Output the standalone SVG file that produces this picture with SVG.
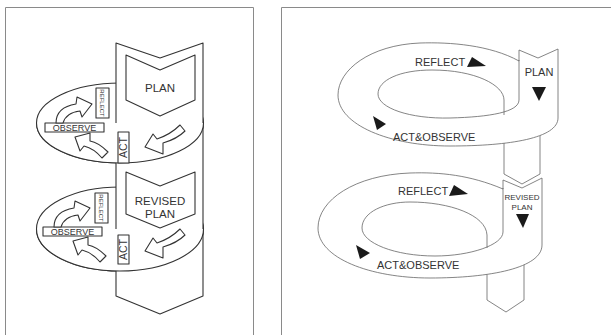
<svg xmlns="http://www.w3.org/2000/svg" width="611" height="335" viewBox="0 0 611 335">
<style>
.frame{fill:none;stroke:#8a8a8a;stroke-width:1}
.l{fill:#fff;stroke:#333;stroke-width:1.1;stroke-linejoin:round}
.ln{fill:none;stroke:#333;stroke-width:1.1}
.r{fill:#fff;stroke:#666;stroke-width:0.8;stroke-linejoin:round}
.rn{fill:none;stroke:#666;stroke-width:0.8}
.t{font-family:"Liberation Sans",Arial,sans-serif;fill:#333}
.tri{fill:#1a1a1a}
</style>
<rect width="611" height="335" fill="#fff"/>
<g id="frames">
<path class="frame" d="M5.5,340 V7.5 H253.5 V340"/>
<path class="frame" d="M281.5,340 V7.5 H612"/>
</g>
<g id="left-diagram">
<g id="cycle1-back"><ellipse class="l" cx="120" cy="123" rx="83.5" ry="40"/></g>
<g id="cycle2-back"><ellipse class="l" cx="120" cy="229" rx="83.5" ry="42"/></g>
<g id="spine"><path class="l" d="M116,43 L160,58 L203,43 L203,296 L160,314 L116,296 Z"/></g>
<g id="cycle1-front"><path class="l" d="M36.5,123 A83.5,40 0 0 0 203.5,123"/></g>
<g id="cycle2-front"><path class="l" d="M36.5,229 A83.5,42 0 0 0 203.5,229"/></g>
<g id="plan">
<path class="l" d="M126,55 L160,70 L195,55 L195,100 L160,116 L126,100 Z"/>
<text class="t" x="160" y="92" font-size="11.5" text-anchor="middle">PLAN</text>
</g>
<g id="revised-plan">
<path class="l" d="M126,172 L160,186 L195,172 L195,214 L160,228 L126,214 Z"/>
<text class="t" x="160" y="205" font-size="11.5" text-anchor="middle">REVISED</text>
<text class="t" x="160" y="218" font-size="11.5" text-anchor="middle">PLAN</text>
</g>
<g id="cycle1-labels">
<rect class="l" x="96" y="88" width="13" height="30"/>
<text class="t" transform="translate(100,103) rotate(90)" font-size="6" text-anchor="middle">REFLECT</text>
<rect class="l" x="45" y="123" width="59" height="9"/>
<text class="t" x="74.5" y="131" font-size="9" text-anchor="middle">OBSERVE</text>
<rect class="l" x="118" y="132" width="11" height="31"/>
<text class="t" transform="translate(127,147.5) rotate(-90)" font-size="10.5" text-anchor="middle">ACT</text>
</g>
<g id="cycle1-arrows">
<path class="l" d="M56,123 C56,112 64,106 76,104 L77,97 L92,104 L82,117 L80,111 C72,112 65,116 63,123 Z"/>
<path class="l" d="M108,152 C101,145 96,142 90,141 L90,133 L75,137 L80,151 L84,146 C92,148 97,152 102,158 Z"/>
<path class="l" d="M180,125 L185,131 C178,138 170,141 163,143 L163,154 L145,147 L153,134 L157,139 C166,136 174,131 180,125 Z"/>
</g>
<g id="cycle2-labels">
<rect class="l" x="95" y="193" width="13" height="30"/>
<text class="t" transform="translate(99,208) rotate(90)" font-size="6" text-anchor="middle">REFLECT</text>
<rect class="l" x="43" y="227" width="59" height="9"/>
<text class="t" x="72.5" y="235" font-size="9" text-anchor="middle">OBSERVE</text>
<rect class="l" x="118" y="235" width="11" height="29"/>
<text class="t" transform="translate(127,249.5) rotate(-90)" font-size="10.5" text-anchor="middle">ACT</text>
</g>
<g id="cycle2-arrows" transform="translate(-2,104)">
<path class="l" d="M56,123 C56,112 64,106 76,104 L77,97 L92,104 L82,117 L80,111 C72,112 65,116 63,123 Z"/>
<path class="l" d="M108,152 C101,145 96,142 90,141 L90,133 L75,137 L80,151 L84,146 C92,148 97,152 102,158 Z"/>
<path class="l" transform="translate(2,0)" d="M180,125 L185,131 C178,138 170,141 163,143 L163,154 L145,147 L153,134 L157,139 C166,136 174,131 180,125 Z"/>
</g>
</g>
<g id="right-diagram">
<g id="tails">
<path class="rn" d="M504,120 L504,174 L522,184 L540,174 L540,120"/>
<path class="rn" d="M487,240 L487,300 L506,312 L524,300 L524,240"/>
</g>
<g id="loop1">
<path class="r" d="M519,61 C490,45 450,42 420,43 C370,45 338,70 338,95 C338,125 390,146 450,146 C510,146 558,138 558,118 L558,49 L538,58 L519,50 Z"/>
<path class="rn" d="M519,60 L519,100 C519,112 490,117 450,118 C410,119 378,108 378,94 C378,80 400,70 432,70 C475,70 504,85 504,100 L504,115"/>
<text class="t" x="415" y="66" font-size="11">REFLECT</text>
<polygon class="tri" points="472,57 486,66 467,67"/>
<text class="t" x="539" y="76" font-size="11" text-anchor="middle">PLAN</text>
<polygon class="tri" points="532,87 546,87 539,101"/>
<text class="t" x="393" y="141" font-size="11">ACT&amp;OBSERVE</text>
<polygon class="tri" points="373,116 386,124 377,130"/>
</g>
<g id="loop2">
<path class="r" d="M503,189 C470,175 440,172 410,173 C355,175 318,200 318,228 C318,258 370,278 430,278 C490,278 542,268 542,245 L542,178 L522,188 L503,180 Z"/>
<path class="rn" d="M503,188 L503,232 C503,245 470,256 435,256 C395,256 362,243 362,228 C362,212 385,202 410,202 C450,202 486,215 487,235 L487,248"/>
<text class="t" x="398" y="195" font-size="11">REFLECT</text>
<polygon class="tri" points="454,185 468,194 449,196"/>
<text class="t" x="522" y="200" font-size="8" text-anchor="middle">REVISED</text>
<text class="t" x="522" y="210" font-size="8" text-anchor="middle">PLAN</text>
<polygon class="tri" points="516,214 529,214 523,228"/>
<text class="t" x="377" y="269" font-size="11">ACT&amp;OBSERVE</text>
<polygon class="tri" points="356,245 370,253 360,259"/>
</g>
</g>
</svg>
